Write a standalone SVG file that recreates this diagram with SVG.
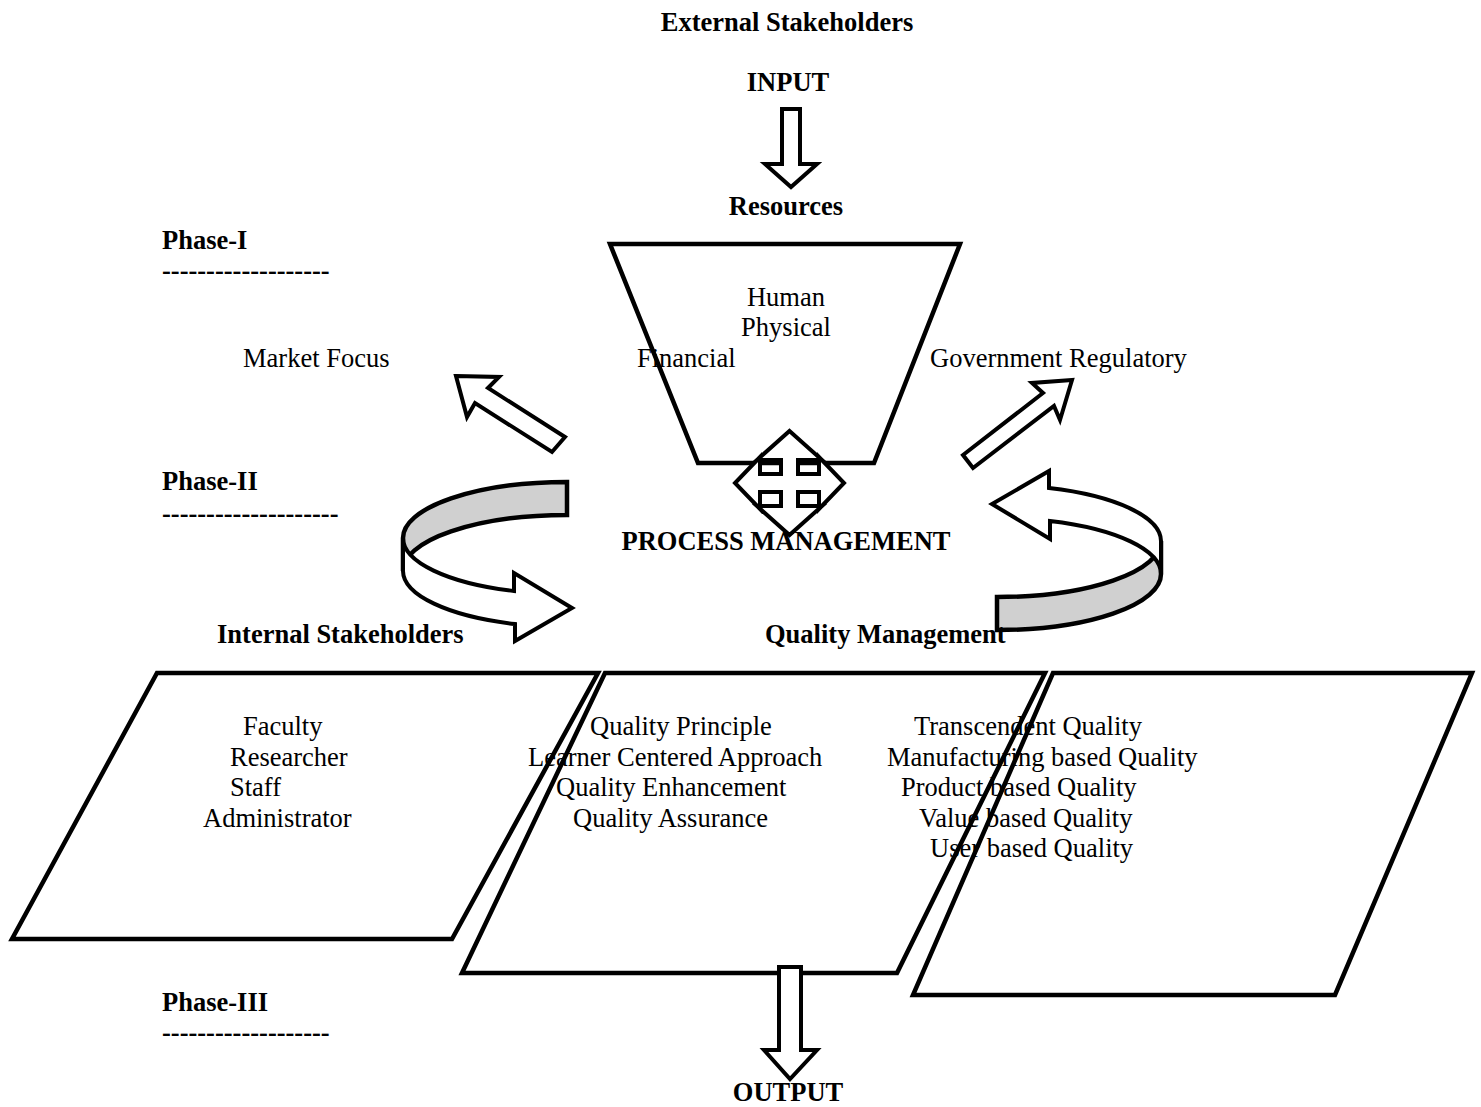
<svg xmlns="http://www.w3.org/2000/svg" xmlns:xlink="http://www.w3.org/1999/xlink" width="1481" height="1107" viewBox="0 0 1481 1107">
<style>
  .t { font-family: "Liberation Serif", "Times New Roman", serif; font-size: 26.5px; fill: #000; }
  .b { font-weight: bold; }
  .m { text-anchor: middle; }
  .shape { fill: #fff; stroke: #000; stroke-width: 4.5; stroke-linejoin: miter; }
  .arrow { fill: #fff; stroke: #000; stroke-width: 4; stroke-linejoin: miter; }
  .gray { fill: #d0d0d0; stroke: #000; stroke-width: 4.5; }
</style>
<defs>
  <g id="curvedArrow">
    <path class="gray" d="M567,482 A164,56 0 0 0 403,538 L403,571 A164,56 0 0 1 567,515 Z"/>
    <path class="arrow" stroke-width="4.5" d="M403,538 A164,56 0 0 0 514,591 L514,573 L572,608 L515,641 L515,624 A164,56 0 0 1 403,571 Z"/>
  </g>
</defs>

<g id="resources">
  <path class="shape" d="M610,244 L960,244 L874,463 L698,463 Z"/>
</g>
<g id="internal-stakeholders">
  <path class="shape" d="M157,673 L598,673 L452,939 L12,939 Z"/>
</g>
<g id="quality-principles">
  <path class="shape" d="M605,673 L1045,673 L897,973 L462,973 Z"/>
</g>
<g id="quality-types">
  <path class="shape" d="M1053,673 L1472,673 L1335,995 L913,995 Z"/>
</g>

<g id="connectors">
  <path class="arrow" d="M782,109 L800,109 L800,164 L817,164 L791,187 L765,164 L782,164 Z"/>
  <path class="arrow" d="M779,967 L801,967 L801,1050 L817,1050 L790,1079 L764,1050 L779,1050 Z"/>
  <path class="arrow" d="M456,376 L499,377 L488,388 L565,437 L552,452 L475,403 L467,417 Z"/>
  <path class="arrow" d="M1072,380 L1032,383 L1043,393 L963,455 L973,468 L1054,406 L1060,420 Z"/>
  <path class="arrow" d="M789.5,431 L822,460 L798,460 L798,474 L819,474 L819,457 L844,483 L819,509 L819,492 L798,492 L798,506 L822,506 L789.5,535 L757,506 L781,506 L781,492 L760,492 L760,509 L735,483 L760,457 L760,474 L781,474 L781,460 L757,460 Z"/>
  <use xlink:href="#curvedArrow" href="#curvedArrow"/>
  <use xlink:href="#curvedArrow" href="#curvedArrow" transform="rotate(180 782 556)"/>
</g>

<g id="labels">
  <text class="t b m" x="787" y="31">External Stakeholders</text>
  <text class="t b m" x="788" y="91">INPUT</text>
  <text class="t b m" x="786" y="215">Resources</text>
  <text class="t b" x="162" y="249">Phase-I</text>
  <text class="t b" x="162" y="279">-------------------</text>
  <text class="t m" x="786" y="306">Human</text>
  <text class="t m" x="786" y="336">Physical</text>
  <text class="t" x="243" y="367">Market Focus</text>
  <text class="t" x="637" y="367">Financial</text>
  <text class="t" x="930" y="367">Government Regulatory</text>
  <text class="t b" x="162" y="490">Phase-II</text>
  <text class="t b" x="162" y="522">--------------------</text>
  <text class="t b m" x="786" y="550">PROCESS MANAGEMENT</text>
  <text class="t b" x="217" y="643">Internal Stakeholders</text>
  <text class="t b" x="765" y="643">Quality Management</text>
  <text class="t" x="243" y="735">Faculty</text>
  <text class="t" x="230" y="766">Researcher</text>
  <text class="t" x="230" y="796">Staff</text>
  <text class="t" x="203" y="827">Administrator</text>
  <text class="t" x="590" y="735">Quality Principle</text>
  <text class="t" x="528" y="766">Learner Centered Approach</text>
  <text class="t" x="556" y="796">Quality Enhancement</text>
  <text class="t" x="573" y="827">Quality Assurance</text>
  <text class="t" x="914" y="735">Transcendent Quality</text>
  <text class="t" x="887" y="766">Manufacturing based Quality</text>
  <text class="t" x="901" y="796">Product based Quality</text>
  <text class="t" x="919" y="827">Value based Quality</text>
  <text class="t" x="930" y="857">User based Quality</text>
  <text class="t b" x="162" y="1011">Phase-III</text>
  <text class="t b" x="162" y="1041">-------------------</text>
  <text class="t b m" x="788" y="1101">OUTPUT</text>
</g>
</svg>
